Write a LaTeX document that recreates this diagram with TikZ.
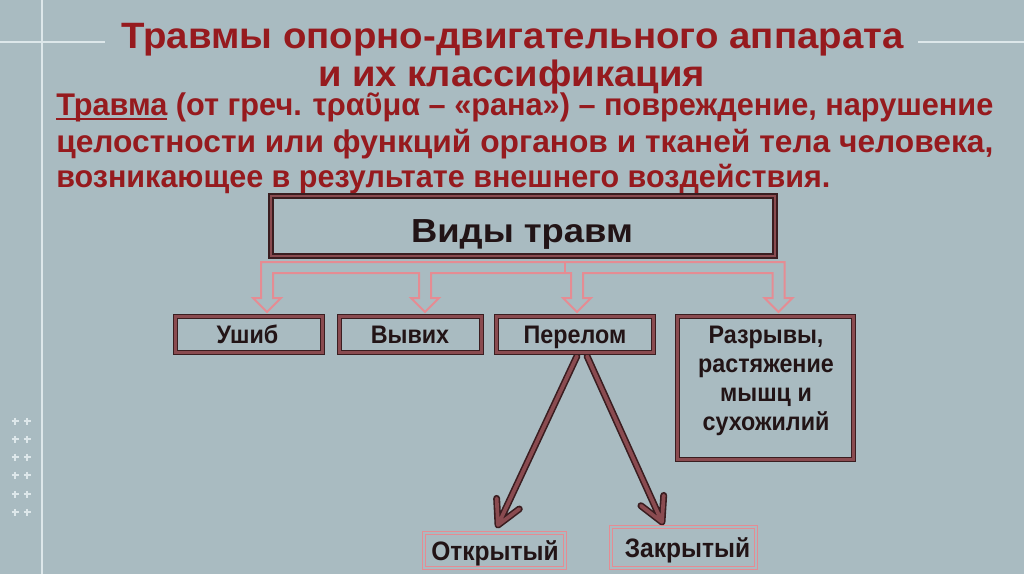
\documentclass[tikz,border=0pt]{standalone}
\usepackage{fontspec}
\setmainfont{Liberation Sans}
\newfontfamily\nar[FakeStretch=0.92]{Liberation Sans}
\usetikzlibrary{calc}
\newdimen\pxu
\pxu=0.75pt
\newcommand\fw[2]{\resizebox{#1\pxu}{\height}{#2}}
\newcommand\myul[1]{\setbox0\hbox{#1}\rlap{\raisebox{-3.2pt}{\rule{\wd0}{1.6pt}}}\box0\relax}
\definecolor{bg}{HTML}{A9BBC1}
\definecolor{ttl}{HTML}{961A1E}
\definecolor{dk}{HTML}{3A1D20}
\definecolor{rose}{HTML}{8A4B50}
\definecolor{pnk}{HTML}{E58C93}
\definecolor{wl}{HTML}{DDE7EA}
\definecolor{txt}{HTML}{221416}
\begin{document}
\begin{tikzpicture}[x=0.75pt,y=-0.75pt,
  ttlst/.style={inner sep=0, anchor=base, text=ttl, font=\fontsize{27.5pt}{32pt}\selectfont\bfseries},
  parast/.style={inner sep=0, anchor=base west, text=ttl, font=\fontsize{23.5pt}{27pt}\selectfont\bfseries},
  frm/.style={draw=dk, line width=1pt, double=rose, double distance=1.8pt, inner sep=0},
  bigfrm/.style={draw=dk, line width=1.4pt, double=rose, double distance=2pt, inner sep=0},
  pfrm/.style={draw=pnk, line width=0.6pt, double=bg, double distance=1.6pt, inner sep=0},
  lbl/.style={inner sep=0, anchor=base, text=txt, font=\nar\fontsize{19pt}{22pt}\selectfont\bfseries},
  blbl/.style={inner sep=0, anchor=base, text=txt, font=\nar\fontsize{20pt}{24pt}\selectfont\bfseries},
  vlbl/.style={inner sep=0, anchor=base, text=txt, font=\fontsize{25pt}{28pt}\selectfont\bfseries},
  pinkarrow/.style={draw=pnk, line width=1.5pt, line join=miter},
  darkpass/.style={draw=dk, line width=5.2pt, line cap=round, line join=round},
  rosepass/.style={draw=rose, line width=2.8pt, line cap=round, line join=round},
  crs/.style={draw=wl, line width=0.8pt},
  deco/.style={draw=wl, line width=1.2pt}
]
\useasboundingbox (0,0) rectangle (1024,574);
\fill[bg] (0,0) rectangle (1024,574);

% decorative lines and crosses
\draw[deco] (42,0) -- (42,574);
\draw[deco] (0,42) -- (105,42);
\draw[deco] (918,42) -- (1024,42);
\foreach \yy in {421,439,457,475,494,512}{
  \foreach \xx in {15,27}{
    \draw[crs] (\xx-3.5,\yy) -- (\xx+3.5,\yy) (\xx,\yy-3.5) -- (\xx,\yy+3.5);
  }
}

% title
\node[ttlst] (t1) at (512.5,49) {\fw{782}{Травмы опорно-двигательного аппарата}};
\node[ttlst] (t2) at (511.5,87) {\fw{387}{и их классификация}};

% definition
\node[parast] (p1) at (56,116) {\fw{937}{\myul{Травма} (от греч. τραῦμα – «рана») – повреждение, нарушение}};
\node[parast] (p2) at (56,152) {\fw{937}{целостности или функций органов и тканей тела человека,}};
\node[parast] (p3) at (56,187) {\fw{774}{возникающее в результате внешнего воздействия.}};

% pink block arrow
\draw[pinkarrow] (261,262) -- (784.5,262) -- (784.5,298) -- (792.5,298) -- (778.5,312) -- (764.5,298) -- (772.5,298) -- (772.5,273)
  -- (583,273) -- (583,298) -- (591,298) -- (577,312) -- (563,298) -- (571,298) -- (571,273)
  -- (431,273) -- (431,298) -- (439,298) -- (425,312) -- (411,298) -- (419,298) -- (419,273)
  -- (273,273) -- (273,298) -- (281,298) -- (267,312) -- (253,298) -- (261,298) -- cycle;
\draw[pinkarrow, line width=1pt] (565,262) -- (565,273);

% frames
\node[bigfrm, minimum width=378pt, minimum height=45pt] (vidy) at (523,226) {};
\node[frm, minimum width=110.25pt, minimum height=27pt] (ushib) at (249,334.5) {};
\node[frm, minimum width=106.5pt, minimum height=27pt] (vyvih) at (410.5,334.5) {};
\node[frm, minimum width=132pt, minimum height=107.25pt] (razryvy) at (765.5,388) {};
\node[pfrm, minimum width=105.75pt, minimum height=26.25pt] (otkr) at (494.5,550.5) {};
\node[pfrm, minimum width=108.75pt, minimum height=30.75pt] (zakr) at (683.5,547.5) {};

% arrows from Перелом
\coordinate (oS) at (577,356);
\coordinate (zS) at (587,356);
\coordinate (oTip) at (498,525);
\coordinate (zTip) at (662,522);
\coordinate (oB1) at ($(oTip)!20pt!28:(oS)$);
\coordinate (oB2) at ($(oTip)!20pt!-28:(oS)$);
\coordinate (zB1) at ($(zTip)!20pt!28:(zS)$);
\coordinate (zB2) at ($(zTip)!20pt!-28:(zS)$);
\draw[darkpass] (oS) -- (oTip) (oB1) -- (oTip) -- (oB2);
\draw[darkpass] (zS) -- (zTip) (zB1) -- (zTip) -- (zB2);
\draw[rosepass] (oS) -- (oTip) (oB1) -- (oTip) -- (oB2);
\draw[rosepass] (zS) -- (zTip) (zB1) -- (zTip) -- (zB2);
\node[frm, fill=bg, minimum width=117.75pt, minimum height=27pt] (perelom) at (575,334.5) {};

% labels
\node[vlbl] (lvidy) at (522,243) {\fw{222}{Виды травм}};
\node[lbl] (lushib) at (247.5,343) {Ушиб};
\node[lbl] (lvyvih) at (410,343) {Вывих};
\node[lbl] (lper) at (575,343) {Перелом};
\node[lbl] (lr1) at (766,343) {Разрывы,};
\node[lbl] (lr2) at (766,372) {растяжение};
\node[lbl] (lr3) at (766,401) {мышц и};
\node[lbl] (lr4) at (766,430) {сухожилий};
\node[blbl] (lotkr) at (495,560) {Открытый};
\node[blbl] (lzakr) at (687.5,557) {Закрытый};
\end{tikzpicture}
\end{document}
